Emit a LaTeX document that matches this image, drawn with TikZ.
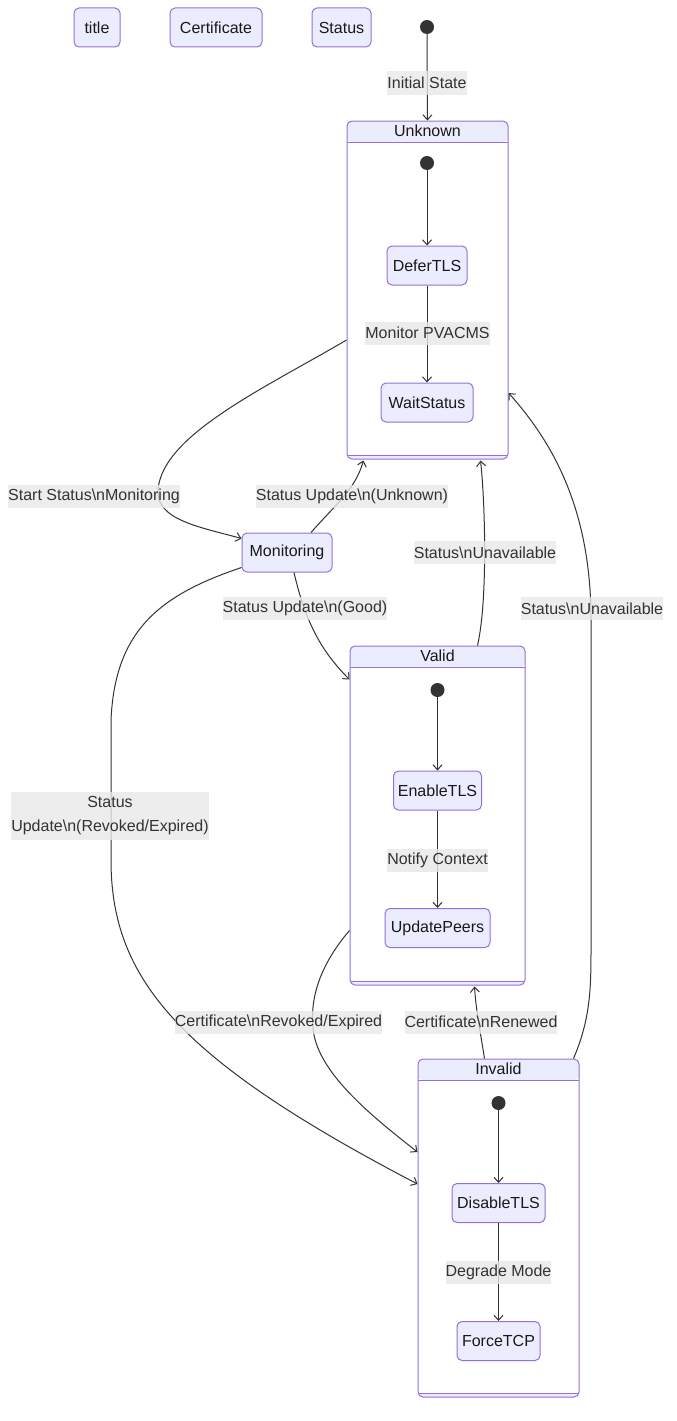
\documentclass[tikz,border=0pt]{standalone}
\usepackage{fontspec}
\setmainfont{Liberation Sans}
\usetikzlibrary{arrows.meta,calc}
\definecolor{nodefill}{HTML}{ECECFF}
\definecolor{nodeline}{HTML}{9370DB}
\definecolor{edgeline}{HTML}{333333}
\definecolor{labelbg}{HTML}{E8E8E8}
\newcommand{\bs}{\textbackslash}
\begin{document}
\begin{tikzpicture}[x=1pt,y=-1pt,
  every node/.style={font=\fontsize{16}{24}\selectfont, text=black!90},
  state/.style={draw=nodeline, fill=nodefill, line width=1pt, rounded corners=5pt,
    minimum height=39pt, inner xsep=4pt, inner ysep=0pt},
  startdot/.style={circle, fill=edgeline, minimum size=14pt, inner sep=0pt},
  cluster/.style={draw=nodeline, line width=1pt, rounded corners=5pt, fill=white, inner sep=0pt,
    path picture={
      \fill[nodefill] (path picture bounding box.north west) rectangle ([yshift=-21pt]path picture bounding box.north east);
      \draw[nodeline, line width=1pt] ([yshift=-21pt]path picture bounding box.north west) -- ([yshift=-21pt]path picture bounding box.north east);
      \fill[nodefill] ([yshift=4pt]path picture bounding box.south west) rectangle (path picture bounding box.south east);
      \draw[nodeline, line width=1pt] ([yshift=4pt]path picture bounding box.south west) -- ([yshift=4pt]path picture bounding box.south east);
    }},
  conn/.style={draw=edgeline, line width=1pt, -{Straight Barb[length=5pt,width=9pt]}},
  elabel/.style={fill=labelbg, fill opacity=0.8, text opacity=1, inner sep=0pt,
    minimum height=23pt, align=center, text=edgeline}
]
\useasboundingbox (0,0) rectangle (677,1421);

% free-standing states in the top row
\node[state, minimum width=46pt] (title) at (97,27.5) {title};
\node[state, minimum width=92pt] (certificate) at (216,27.5) {Certificate};
\node[state, minimum width=59pt] (status) at (341.5,27.5) {Status};
\node[startdot] (start) at (427,27) {};

% composite states
\node[cluster, minimum width=161pt, minimum height=338pt] (unknown) at (427.5,290) {};
\node (unknownTitle) at ($(unknown.north)+(0,10.5)$) {Unknown};
\node[cluster, minimum width=175pt, minimum height=339pt] (valid) at (437.5,815.5) {};
\node (validTitle) at ($(valid.north)+(0,10.5)$) {Valid};
\node[cluster, minimum width=161pt, minimum height=338pt] (invalid) at (498.5,1228) {};
\node (invalidTitle) at ($(invalid.north)+(0,10.5)$) {Invalid};

% inner states
\node[startdot] (uStart) at (427,163) {};
\node[state, minimum width=80pt] (defer) at (427,265.5) {DeferTLS};
\node[state, minimum width=92pt] (wait) at (427,402.5) {WaitStatus};
\node[state, minimum width=90pt] (monitoring) at (287,552.5) {Monitoring};
\node[startdot] (vStart) at (437.5,690) {};
\node[state, minimum width=88pt] (enable) at (437.5,790.5) {EnableTLS};
\node[state, minimum width=105pt] (peers) at (437.5,928) {UpdatePeers};
\node[startdot] (iStart) at (498.5,1103) {};
\node[state, minimum width=93pt] (disable) at (498.5,1203) {DisableTLS};
\node[state, minimum width=83pt] (force) at (498.5,1341) {ForceTCP};

% transitions
\draw[conn] (start) -- (unknown.north);
\draw[conn] (uStart) -- (defer);
\draw[conn] (defer) -- (wait);
\draw[conn] (vStart) -- (enable);
\draw[conn] (enable) -- (peers);
\draw[conn] (iStart) -- (disable);
\draw[conn] (disable) -- (force);

\draw[conn] ($(unknown.west)+(0,50)$) .. controls (265,388) and (162,435) .. (158,490)
  .. controls (156,520) and (200,527) .. ($(monitoring.north west)+(0,6)$);
\draw[conn] ($(monitoring.north)+(24,0)$) .. controls (335,505) and (355,490) .. ($(unknown.south)+(-64,1)$);
\draw[conn] ($(monitoring.south)+(7,0)$) .. controls (305,620) and (320,650) .. ($(valid.north west)+(0,34)$);
\draw[conn] ($(valid.north)+(40,0)$) .. controls (488,600) and (485,500) .. ($(unknown.south)+(53,1)$);
\draw[conn] ($(invalid.north east)+(-6,0)$) .. controls (590,1020) and (591,990) .. (591,950)
  -- (591,620) .. controls (591,520) and (560,450) .. ($(unknown.east)+(0,103)$);
\draw[conn] ($(monitoring.south west)+(0,-5)$) .. controls (160,595) and (115,630) .. (111,720)
  -- (111,860) .. controls (111,980) and (180,1060) .. ($(invalid.west)+(0,-44)$);
\draw[conn] ($(valid.south west)+(0,-55)$) .. controls (320,965) and (308,1000) .. (314,1035)
  .. controls (322,1075) and (370,1115) .. ($(invalid.west)+(0,-76)$);
\draw[conn] ($(invalid.north)+(-14,0)$) .. controls (480,1030) and (476,1010) .. ($(valid.south)+(37,1)$);

% transition labels
\node[elabel] (lInit) at (427,83) {Initial State};
\node[elabel] (lMonitor) at (427.5,333) {Monitor PVACMS};
\node[elabel] (lStart) at (94,496) {Start Status\bs nMonitoring};
\node[elabel] (lUnknown) at (352,496) {Status Update\bs n(Unknown)};
\node[elabel] (lUnavail1) at (485,552.5) {Status\bs nUnavailable};
\node[elabel] (lGood) at (305,608.5) {Status Update\bs n(Good)};
\node[elabel] (lUnavail2) at (592,608.5) {Status\bs nUnavailable};
\node[elabel, minimum height=48pt] (lRevoked) at (110,815.5) {Status\\Update\bs n(Revoked/Expired)};
\node[elabel] (lNotify) at (437.5,860) {Notify Context};
\node[elabel] (lCertRev) at (278.5,1022) {Certificate\bs nRevoked/Expired};
\node[elabel] (lRenewed) at (481,1022) {Certificate\bs nRenewed};
\node[elabel] (lDegrade) at (498.5,1272) {Degrade Mode};
\end{tikzpicture}
\end{document}
